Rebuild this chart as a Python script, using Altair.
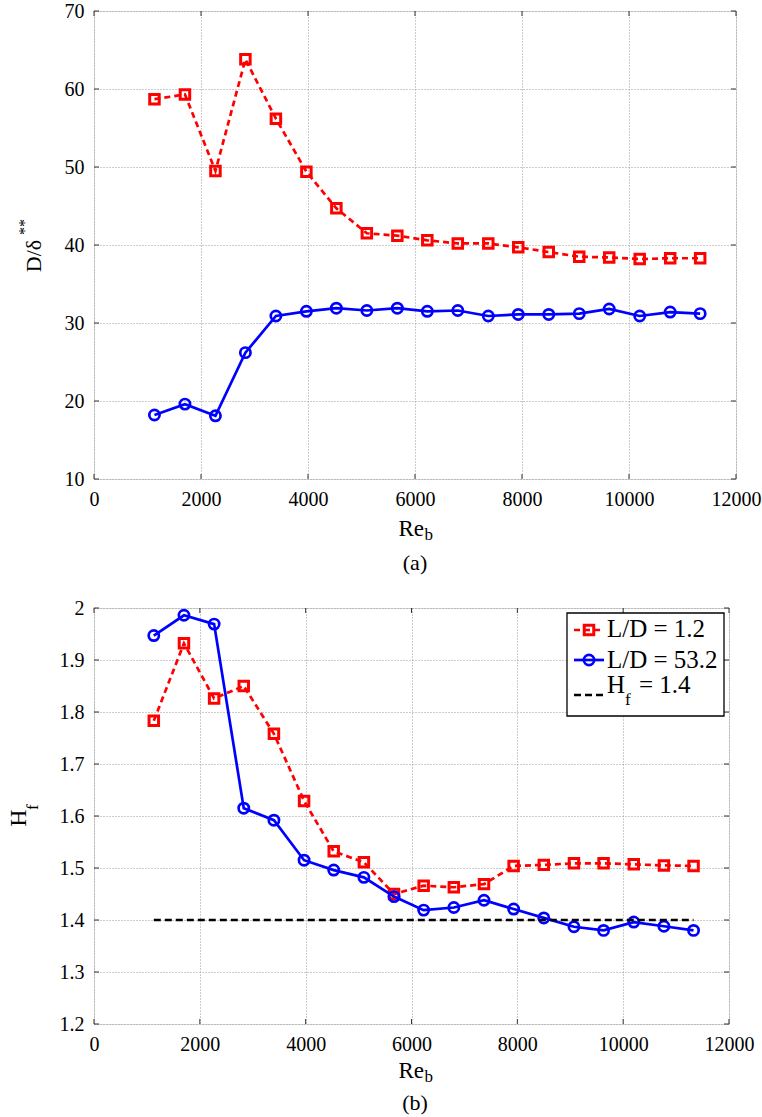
import altair as alt
import pandas as pd

FONT = "Liberation Serif"

# ---- data ----
re_b = [1130, 1700, 2270, 2830, 3400, 3970, 4530, 5100, 5670, 6230,
        6800, 7370, 7930, 8500, 9070, 9630, 10200, 10770, 11330]

d_red = [58.7, 59.3, 49.5, 63.8, 56.2, 49.4, 44.7, 41.5, 41.2, 40.6,
         40.2, 40.2, 39.7, 39.1, 38.5, 38.4, 38.2, 38.3, 38.3]
d_blue = [18.2, 19.6, 18.1, 26.2, 30.9, 31.5, 31.9, 31.6, 31.9, 31.5,
          31.6, 30.9, 31.1, 31.1, 31.2, 31.8, 30.9, 31.4, 31.2]

hf_red = [1.783, 1.932, 1.826, 1.850, 1.758, 1.629, 1.532, 1.511, 1.450, 1.466,
          1.463, 1.469, 1.504, 1.506, 1.509, 1.509, 1.507, 1.505, 1.504]
hf_blue = [1.947, 1.986, 1.969, 1.615, 1.592, 1.515, 1.496, 1.482, 1.445, 1.419,
           1.424, 1.438, 1.421, 1.404, 1.387, 1.380, 1.396, 1.388, 1.380]

hf_ref_x = [1130, 11330]
hf_ref_y = [1.4, 1.4]

x_ticks = [0, 2000, 4000, 6000, 8000, 10000, 12000]
y_ticks_a = [10, 20, 30, 40, 50, 60, 70]
y_ticks_b = [1.2, 1.3, 1.4, 1.5, 1.6, 1.7, 1.8, 1.9, 2.0]

legend_labels = ["L/D = 1.2", "L/D = 53.2", "= 1.4"]

RED = "#ff0000"
BLUE = "#0000ff"
TICK_LEN = 5
LABEL_SIZE = 20
SQ_SIZE = 90
CI_SIZE = 105
LW = 2.7

one = pd.DataFrame({"k": [0]})


def axis_x():
    return alt.Axis(values=x_ticks, format="d", title=None, grid=True,
                    gridDash=[1, 2], gridColor="#999999", gridWidth=1,
                    ticks=False, domain=False, labelFont=FONT,
                    labelFontSize=LABEL_SIZE, labelColor="black",
                    labelPadding=10, labelFlush=False, labelOverlap=False)


def axis_y(vals, fmt):
    return alt.Axis(values=vals, format=fmt, title=None, grid=True,
                    gridDash=[1, 2], gridColor="#999999", gridWidth=1,
                    ticks=False, domain=False, labelFont=FONT,
                    labelFontSize=LABEL_SIZE, labelColor="black",
                    labelPadding=10, labelOverlap=False)


def panel(df, ydom, yvals, yfmt, W, H, extra_layers):
    xs = alt.Scale(domain=[0, 12000], nice=False, zero=False)
    ys = alt.Scale(domain=ydom, nice=False, zero=False)
    X = lambda f: alt.X(f, type="quantitative", scale=xs, axis=axis_x())
    Y = lambda f: alt.Y(f, type="quantitative", scale=ys, axis=axis_y(yvals, yfmt))

    base = alt.Chart(df)
    red_line = base.mark_line(color=RED, strokeWidth=LW, strokeDash=[6, 4]).encode(
        x=X("Re"), y=Y("red"))
    red_pts = base.mark_point(shape="square", filled=False, color=RED, size=SQ_SIZE,
                              strokeWidth=3, opacity=1).encode(x=X("Re"), y=Y("red"))
    blue_line = base.mark_line(color=BLUE, strokeWidth=LW).encode(
        x=X("Re"), y=Y("blue"))
    blue_pts = base.mark_point(shape="circle", filled=False, color=BLUE, size=CI_SIZE,
                               strokeWidth=LW, opacity=1).encode(x=X("Re"), y=Y("blue"))

    xt = pd.DataFrame({"t": x_ticks})
    yt = pd.DataFrame({"t": yvals})
    tick_style = dict(color="#333333", strokeWidth=1)
    xb = alt.Chart(xt).mark_rule(**tick_style).encode(
        x=X("t"), y=alt.value(H), y2=alt.value(H - TICK_LEN))
    xtp = alt.Chart(xt).mark_rule(**tick_style).encode(
        x=X("t"), y=alt.value(0), y2=alt.value(TICK_LEN))
    yl = alt.Chart(yt).mark_rule(**tick_style).encode(
        y=Y("t"), x=alt.value(0), x2=alt.value(TICK_LEN))
    yr = alt.Chart(yt).mark_rule(**tick_style).encode(
        y=Y("t"), x=alt.value(W - TICK_LEN), x2=alt.value(W))

    layers = [xb, xtp, yl, yr, red_line, red_pts, blue_line, blue_pts]
    layers += extra_layers(X, Y)
    return alt.layer(*layers).properties(width=W, height=H)


def txt(s, x, y, size, align="left", angle=0, baseline="alphabetic"):
    kw = dict(text=s, font=FONT, fontSize=size, align=align, baseline=baseline,
              color="black")
    if angle:
        kw["angle"] = angle
    return alt.Chart(one).mark_text(**kw).encode(x=alt.value(x), y=alt.value(y))


# ---------- panel (a) ----------
W1, H1 = 642, 468
df_a = pd.DataFrame({"Re": re_b, "red": d_red, "blue": d_blue})


def extra_a(X, Y):
    return [
        txt("Re", 330, 525, 23, align="right"),
        txt("b", 330.5, 529, 17),
        txt("(a)", 321, 559, 22, align="center"),
        txt("D/\u03b4", -53, 245, 22, align="center", angle=270),
        txt("**", -64, 216, 16, align="center", angle=270),
    ]


top = panel(df_a, [10, 70], y_ticks_a, "d", W1, H1, extra_a)

# ---------- panel (b) ----------
W2, H2 = 635, 416
df_b = pd.DataFrame({"Re": re_b, "red": hf_red, "blue": hf_blue})
df_ref = pd.DataFrame({"Re": hf_ref_x, "h": hf_ref_y})


def extra_b(X, Y):
    ref = alt.Chart(df_ref).mark_line(color="black", strokeWidth=LW,
                                      strokeDash=[7, 4]).encode(x=X("Re"), y=Y("h"))
    box = alt.Chart(one).mark_rect(fill="white", stroke="black", strokeWidth=1.3).encode(
        x=alt.value(473), x2=alt.value(630), y=alt.value(5), y2=alt.value(108))
    l1 = alt.Chart(one).mark_rule(color=RED, strokeWidth=LW, strokeDash=[6, 4]).encode(
        x=alt.value(480), x2=alt.value(510), y=alt.value(22))
    p1 = alt.Chart(one).mark_point(shape="square", filled=False, color=RED, size=SQ_SIZE,
                                   strokeWidth=3, opacity=1).encode(
        x=alt.value(495), y=alt.value(22))
    l2 = alt.Chart(one).mark_rule(color=BLUE, strokeWidth=LW).encode(
        x=alt.value(480), x2=alt.value(510), y=alt.value(52))
    p2 = alt.Chart(one).mark_point(shape="circle", filled=False, color=BLUE, size=CI_SIZE,
                                   strokeWidth=LW, opacity=1).encode(
        x=alt.value(495), y=alt.value(52))
    l3 = alt.Chart(one).mark_rule(color="black", strokeWidth=LW, strokeDash=[7, 4]).encode(
        x=alt.value(480), x2=alt.value(510), y=alt.value(87))
    return [
        ref, box, l1, p1, l2, p2, l3,
        txt(legend_labels[0], 513, 29, 25),
        txt(legend_labels[1], 513, 60, 25),
        txt("H", 513, 85, 25),
        txt("f", 531, 97, 17),
        txt(legend_labels[2], 545, 85, 25),
        txt("Re", 330, 470, 23, align="right"),
        txt("b", 330.5, 474, 17),
        txt("(b)", 321, 502, 22, align="center"),
        txt("H", -68, 210, 24, align="center", angle=270),
        txt("f", -56, 202, 17, align="left", angle=270),
    ]


bottom = panel(df_b, [1.2, 2.0], y_ticks_b, ".1~f", W2, H2, extra_b)

chart = alt.vconcat(top, bottom, spacing=129, bounds="flush").properties(
    padding={"left": 6, "top": 0, "right": 0, "bottom": 0}
).configure_view(stroke="black", strokeWidth=1.5).configure(font=FONT).configure_axis(
    labelFont=FONT)

chart.save("out.html", embed_options={"renderer": "svg", "actions": False})
